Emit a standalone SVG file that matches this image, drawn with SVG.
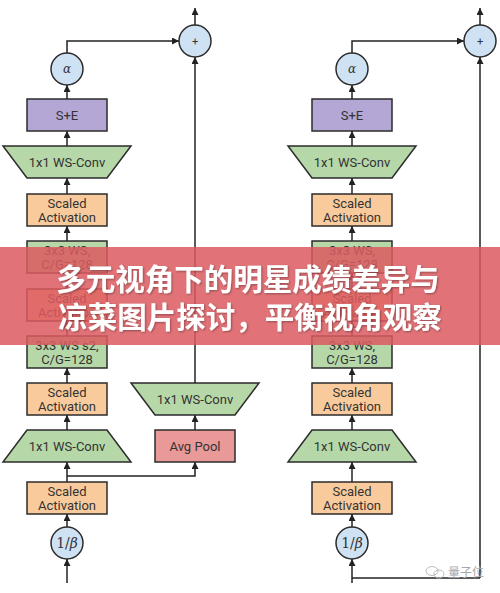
<svg xmlns="http://www.w3.org/2000/svg" width="500" height="593" viewBox="0 0 500 593">
<style>
.ln{fill:none;stroke:#222;stroke-width:1.5}
.ar{marker-end:url(#ah)}
.box{stroke:#2b2b2b;stroke-width:1.5}
.g{fill:#b6d7a8}
.o{fill:#f9cb9c}
.p{fill:#b4a7d6}
.r{fill:#ea9999}
.c{fill:#cfe2f3}
.t{font-family:Roboto,"Open Sans",sans-serif;font-size:13px;fill:#333;text-anchor:middle}
.m{font-family:"DejaVu Serif","Liberation Serif",serif;font-style:italic;fill:#333;text-anchor:middle}
.ban{font-family:"Noto Sans CJK SC",sans-serif;font-weight:bold;font-size:29.5px;fill:#fff;text-anchor:middle}
</style>
<defs>
<marker id="ah" markerUnits="userSpaceOnUse" markerWidth="8" markerHeight="8" refX="7" refY="3.5" orient="auto">
<path d="M0,0 L7,3.5 L0,7 z" fill="#222"/>
</marker>
<filter id="sh" x="-10%" y="-20%" width="120%" height="140%">
<feDropShadow dx="1" dy="1" stdDeviation="1.2" flood-color="#000" flood-opacity="0.35"/>
</filter>
</defs>
<rect width="500" height="593" fill="#fff"/>

<g id="connectors">
<!-- left column -->
<path class="ln ar" d="M67,583 V559"/>
<path class="ln ar" d="M67,527 V514"/>
<path class="ln ar" d="M67,482 V462"/>
<path class="ln ar" d="M67,476 H195 V462"/>
<path class="ln ar" d="M67,430 V415"/>
<path class="ln ar" d="M67,383 V368"/>
<path class="ln ar" d="M67,336 V321"/>
<path class="ln ar" d="M67,289 V273"/>
<path class="ln ar" d="M67,241 V226"/>
<path class="ln ar" d="M67,194 V178"/>
<path class="ln ar" d="M67,146 V131"/>
<path class="ln ar" d="M67,99 V85"/>
<path class="ln ar" d="M67,53 V41 H179"/>
<path class="ln ar" d="M195,430 V415"/>
<path class="ln ar" d="M195,383 V57"/>
<path class="ln ar" d="M195,25 V8"/>
<!-- right column -->
<path class="ln ar" d="M352,583 V559"/>
<path class="ln" d="M352,578 H480"/>
<path class="ln ar" d="M480,578 V57"/>
<path class="ln ar" d="M352,527 V514"/>
<path class="ln ar" d="M352,482 V462"/>
<path class="ln ar" d="M352,430 V415"/>
<path class="ln ar" d="M352,383 V368"/>
<path class="ln ar" d="M352,336 V321"/>
<path class="ln ar" d="M352,289 V273"/>
<path class="ln ar" d="M352,241 V226"/>
<path class="ln ar" d="M352,194 V178"/>
<path class="ln ar" d="M352,146 V131"/>
<path class="ln ar" d="M352,99 V85"/>
<path class="ln ar" d="M352,53 V41 H464"/>
<path class="ln ar" d="M480,25 V8"/>
</g>

<!-- left column nodes -->
<g id="plusL"><circle class="box c" cx="195" cy="41" r="16"/><text class="t" x="195" y="45" style="font-size:11px">+</text></g>
<g id="alphaL"><circle class="box c" cx="67" cy="69" r="16"/><text class="m" x="67" y="73" style="font-size:12px">α</text></g>
<g id="seL"><rect class="box p" x="27" y="99" width="80" height="32"/><text class="t" x="67" y="119.5">S+E</text></g>
<g id="conv1L"><polygon class="box g" points="3,146 131,146 107,178 27,178"/><text class="t" x="67" y="166.5">1x1 WS-Conv</text></g>
<g id="act1L"><rect class="box o" x="27" y="194" width="80" height="32"/><text class="t" x="67" y="207.5">Scaled</text><text class="t" x="67" y="221.5">Activation</text></g>
<g id="ws1L"><rect class="box g" x="27" y="241" width="80" height="32"/><text class="t" x="67" y="254.5">3x3 WS,</text><text class="t" x="67" y="268.5">C/G=128</text></g>
<g id="act2L"><rect class="box o" x="27" y="289" width="80" height="32"/><text class="t" x="67" y="302.5">Scaled</text><text class="t" x="67" y="316.5">Activation</text></g>
<g id="ws2L"><rect class="box g" x="27" y="336" width="80" height="32"/><text class="t" x="67" y="349.5">3x3 WS s2,</text><text class="t" x="67" y="363.5">C/G=128</text></g>
<g id="act3L"><rect class="box o" x="27" y="383" width="80" height="32"/><text class="t" x="67" y="396.5">Scaled</text><text class="t" x="67" y="410.5">Activation</text></g>
<g id="conv2L"><polygon class="box g" points="27,430 107,430 131,462 3,462"/><text class="t" x="67" y="450.5">1x1 WS-Conv</text></g>
<g id="act4L"><rect class="box o" x="27" y="482" width="80" height="32"/><text class="t" x="67" y="495.5">Scaled</text><text class="t" x="67" y="509.5">Activation</text></g>
<g id="betaL"><circle class="box c" cx="67" cy="543" r="16"/><text class="m" x="67" y="548" style="font-size:14px;font-style:normal">1/<tspan font-style="italic">β</tspan></text></g>
<g id="poolL"><rect class="box r" x="155" y="430" width="80" height="32"/><text class="t" x="195" y="450.5">Avg Pool</text></g>
<g id="conv3L"><polygon class="box g" points="131,383 259,383 235,415 155,415"/><text class="t" x="195" y="403.5">1x1 WS-Conv</text></g>

<!-- right column nodes -->
<g id="plusR"><circle class="box c" cx="480" cy="41" r="16"/><text class="t" x="480" y="45" style="font-size:11px">+</text></g>
<g id="alphaR"><circle class="box c" cx="352" cy="69" r="16"/><text class="m" x="352" y="73" style="font-size:12px">α</text></g>
<g id="seR"><rect class="box p" x="312" y="99" width="80" height="32"/><text class="t" x="352" y="119.5">S+E</text></g>
<g id="conv1R"><polygon class="box g" points="288,146 416,146 392,178 312,178"/><text class="t" x="352" y="166.5">1x1 WS-Conv</text></g>
<g id="act1R"><rect class="box o" x="312" y="194" width="80" height="32"/><text class="t" x="352" y="207.5">Scaled</text><text class="t" x="352" y="221.5">Activation</text></g>
<g id="ws1R"><rect class="box g" x="312" y="241" width="80" height="32"/><text class="t" x="352" y="254.5">3x3 WS,</text><text class="t" x="352" y="268.5">C/G=128</text></g>
<g id="act2R"><rect class="box o" x="312" y="289" width="80" height="32"/><text class="t" x="352" y="302.5">Scaled</text><text class="t" x="352" y="316.5">Activation</text></g>
<g id="ws2R"><rect class="box g" x="312" y="336" width="80" height="32"/><text class="t" x="352" y="349.5">3x3 WS,</text><text class="t" x="352" y="363.5">C/G=128</text></g>
<g id="act3R"><rect class="box o" x="312" y="383" width="80" height="32"/><text class="t" x="352" y="396.5">Scaled</text><text class="t" x="352" y="410.5">Activation</text></g>
<g id="conv2R"><polygon class="box g" points="312,430 392,430 416,462 288,462"/><text class="t" x="352" y="450.5">1x1 WS-Conv</text></g>
<g id="act4R"><rect class="box o" x="312" y="482" width="80" height="32"/><text class="t" x="352" y="495.5">Scaled</text><text class="t" x="352" y="509.5">Activation</text></g>
<g id="betaR"><circle class="box c" cx="352" cy="543" r="16"/><text class="m" x="352" y="548" style="font-size:14px;font-style:normal">1/<tspan font-style="italic">β</tspan></text></g>

<!-- watermark -->
<g id="watermark" fill="none" stroke="#bbb" stroke-width="1">
<ellipse cx="432" cy="571" rx="6" ry="4.5"/>
<ellipse cx="439" cy="574" rx="5" ry="4"/>
<text x="448" y="577" style="font-family:'Noto Sans CJK SC',sans-serif;font-size:12px;fill:#a8a8a8;stroke:none">量子位</text>
</g>

<!-- title banner -->
<g id="banner">
<rect x="0" y="247" width="500" height="98" fill="#dc5a60" fill-opacity="0.85"/>
<g filter="url(#sh)">
<text class="ban" x="248" y="290">多元视角下的明星成绩差异与</text>
<text class="ban" x="250" y="328">凉菜图片探讨，平衡视角观察</text>
</g>
</g>
</svg>
